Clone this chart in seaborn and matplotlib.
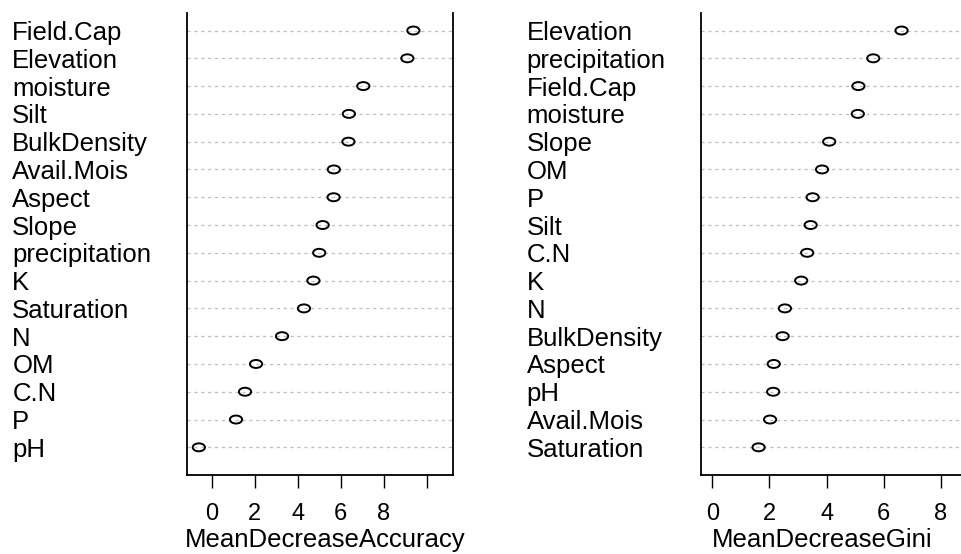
import numpy as np
import pandas as pd
import matplotlib
matplotlib.use('Agg')
import matplotlib.pyplot as plt
import seaborn as sns
from matplotlib.path import Path
from matplotlib.transforms import Affine2D

## DADOS
vars_acc = ['Field.Cap', 'Elevation', 'moisture', 'Silt', 'BulkDensity', 'Avail.Mois',
            'Aspect', 'Slope', 'precipitation', 'K', 'Saturation', 'N', 'OM', 'C.N', 'P', 'pH']
mda = [9.38, 9.10, 7.05, 6.38, 6.36, 5.68, 5.67, 5.16, 5.00, 4.73, 4.29, 3.27, 2.06, 1.55, 1.13, -0.60]

vars_gini = ['Elevation', 'precipitation', 'Field.Cap', 'moisture', 'Slope', 'OM', 'P', 'Silt',
             'C.N', 'K', 'N', 'BulkDensity', 'Aspect', 'pH', 'Avail.Mois', 'Saturation']
mdg = [6.62, 5.63, 5.11, 5.09, 4.09, 3.84, 3.51, 3.44, 3.32, 3.11, 2.54, 2.46, 2.15, 2.13, 2.02, 1.62]

ticks_acc = [0, 2, 4, 6, 8, 10]
ticklabels_acc = ['0', '2', '4', '6', '8', '']
ticks_gini = [0, 2, 4, 6, 8]
ticklabels_gini = ['0', '2', '4', '6', '8']

sns.set_style('ticks')
plt.rcParams['font.family'] = ['Liberation Sans', 'DejaVu Sans']
plt.rcParams['text.color'] = 'black'
plt.rcParams['axes.labelcolor'] = 'black'
plt.rcParams['xtick.color'] = 'black'
plt.rcParams['ytick.color'] = 'black'

# circulo "achatado" como no original
circ = Path.unit_circle()
ellipse = Path(Affine2D().scale(1.0, 0.65).transform(circ.vertices), circ.codes)

fig = plt.figure(figsize=(9.62, 5.54), dpi=100)
ax1 = fig.add_axes([0.1941, 0.1424, 0.2765, 0.8341])
ax2 = fig.add_axes([0.7287, 0.1424, 0.2765, 0.8341])


def dotchart(ax, names, vals, xlabel, xlim, ticks, ticklabels, xlab_x):
    df = pd.DataFrame({'var': names, 'imp': vals})
    df['pos'] = np.arange(len(df), 0, -1)
    sns.scatterplot(data=df, x='imp', y='pos', ax=ax, marker=ellipse, s=78,
                    linewidth=1.4, zorder=3, legend=False)
    pts = ax.collections[-1]
    pts.set_facecolor('none')
    pts.set_edgecolor('black')

    ax.set_xlim(xlim)
    ax.set_ylim(0, 16.63)
    ax.set_xticks(ticks)
    ax.set_xticklabels(ticklabels, fontsize=17)
    ax.set_yticks(df['pos'])
    ax.set_yticklabels(df['var'], fontsize=18.5, ha='left')
    ax.tick_params(axis='y', length=0, pad=125.6)
    ax.tick_params(axis='x', bottom=True, length=9.4, width=1.0, color='black', pad=11,
                   direction='out')
    ax.yaxis.grid(True, linestyle=(0, (2.5, 3)), color='#bebebe', linewidth=0.9)
    ax.xaxis.grid(False)
    ax.set_axisbelow(True)

    ax.set_xlabel(xlabel, fontsize=18.5, labelpad=1.5, x=xlab_x)
    ax.set_ylabel('')
    ax.spines['top'].set_visible(False)
    for s in ['left', 'right', 'bottom']:
        ax.spines[s].set_visible(True)
        ax.spines[s].set_color('black')
        ax.spines[s].set_linewidth(1.3)


dotchart(ax1, vars_acc, mda, 'MeanDecreaseAccuracy', (-1.163, 11.21), ticks_acc, ticklabels_acc, 0.52)
dotchart(ax2, vars_gini, mdg, 'MeanDecreaseGini', (-0.395, 8.91), ticks_gini, ticklabels_gini, 0.455)

fig.savefig('out.png', dpi=100)
